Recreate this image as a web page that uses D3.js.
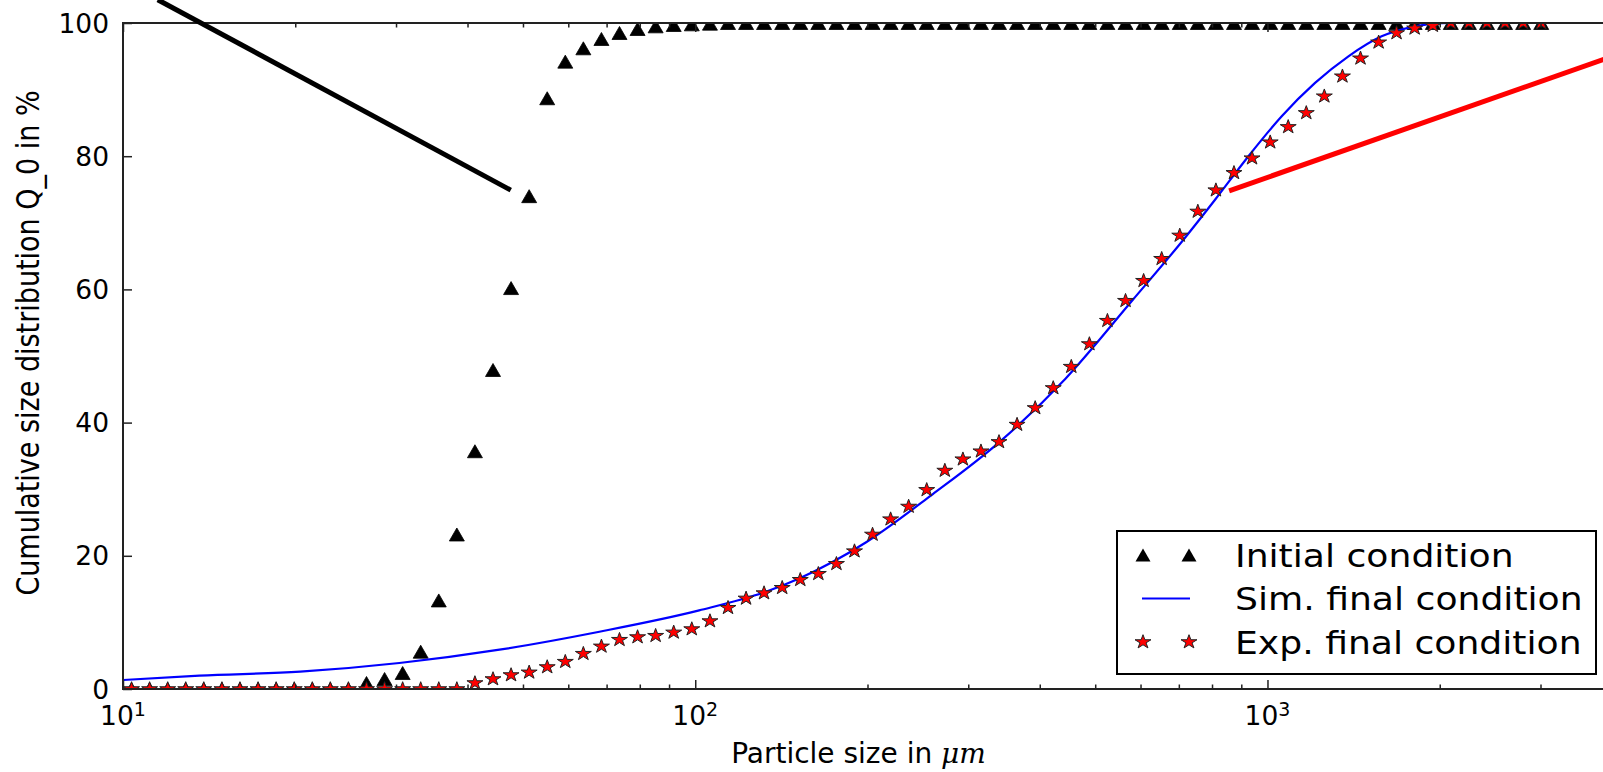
<!DOCTYPE html>
<html>
<head>
<meta charset="utf-8">
<script src="https://cdn.jsdelivr.net/npm/d3@7"></script>
<style>
  body { margin: 0; background: #fff; }
  svg { display: block; }
  text { font-family: "DejaVu Sans", sans-serif; fill: #000; }
</style>
</head>
<body>
<svg id="chart"></svg>
<script>
// particle size classes in um (same for both measured series)
var sizes = [10.35, 11.13, 11.97, 12.87, 13.84, 14.89, 16.01, 17.22, 18.52, 19.92,
  21.42, 23.03, 24.77, 26.64, 28.65, 30.81, 33.13, 35.63, 38.32, 41.21,
  44.32, 47.66, 51.26, 55.12, 59.28, 63.75, 68.56, 73.73, 79.29, 85.27,
  91.70, 98.62, 106.1, 114.1, 122.7, 131.9, 141.9, 152.6, 164.1, 176.5,
  189.8, 204.1, 219.5, 236.0, 253.8, 273.0, 293.6, 315.7, 339.5, 365.1,
  392.7, 422.3, 454.1, 488.4, 525.2, 564.9, 607.5, 653.3, 702.6, 755.6,
  812.6, 873.9, 939.8, 1011, 1087, 1169, 1257, 1352, 1454, 1564,
  1681, 1808, 1945, 2091, 2249, 2419, 2601, 2798, 3009];

var initialQ0 = [0, 0, 0, 0, 0, 0, 0, 0, 0, 0,
  0, 0, 0, 0.9, 1.5, 2.4, 5.6, 13.3, 23.2, 35.7,
  47.9, 60.2, 74.0, 88.7, 94.2, 96.2, 97.6, 98.5, 99.1, 99.5,
  99.7, 99.8, 99.9, 100, 100, 100, 100, 100, 100, 100,
  100, 100, 100, 100, 100, 100, 100, 100, 100, 100,
  100, 100, 100, 100, 100, 100, 100, 100, 100, 100,
  100, 100, 100, 100, 100, 100, 100, 100, 100, 100,
  100, 100, 100, 100, 100, 100, 100, 100, 100];

var expQ0 = [0, 0, 0, 0, 0, 0, 0, 0, 0, 0,
  0, 0, 0, 0, 0, 0, 0, 0, 0, 0.9,
  1.5, 2.1, 2.5, 3.3, 4.1, 5.3, 6.4, 7.4, 7.8, 8.0,
  8.5, 9.0, 10.2, 12.2, 13.6, 14.4, 15.2, 16.4, 17.3, 18.8,
  20.7, 23.2, 25.5, 27.4, 29.9, 32.8, 34.5, 35.7, 37.1, 39.7,
  42.2, 45.2, 48.4, 51.8, 55.3, 58.3, 61.3, 64.6, 68.1, 71.7,
  74.9, 77.5, 79.7, 82.1, 84.4, 86.5, 89.0, 92.0, 94.7, 97.1,
  98.5, 99.2, 99.6, 100, 100, 100, 100, 100, 100];

// simulated curve
var simSizes = [10, 13.6, 20.4, 30.4, 45.5, 68, 101.6, 132.9, 151.9, 198.6,
  259.5, 339.2, 443.6, 579.8, 713.6, 810.4, 926.3, 1059, 1211, 1385,
  1583, 1811, 2070, 3009];
var simQ0 = [1.35, 2.0, 2.6, 3.9, 5.9, 8.6, 11.8, 14.6, 16.6, 22.0,
  29.2, 37.0, 46.6, 58.3, 67.5, 73.5, 80.0, 86.0, 91.0, 95.0,
  98.0, 99.5, 100, 100];

var yTicks = [0, 20, 40, 60, 80, 100];
var xTicks = [10, 100, 1000];
var xTickExp = ["1", "2", "3"];
var legendLabels = ["Initial condition", "Sim. final condition", "Exp. final condition"];

// pointer lines [size, Q0] start -> end
var blackPointer = [[11.5, 103.5], [47.6, 74.9]];
var redPointer = [[857, 74.8], [3890, 94.6]];

var W = 1603, H = 772;
var margin = { top: 23, left: 123 };
var width = 1612 - margin.left,   // right spine falls just outside the window
  height = 689 - margin.top;

var svg = d3.select("#chart").attr("width", W).attr("height", H);
var g = svg.append("g").attr("transform", "translate(" + margin.left + "," + margin.top + ")");

var xScale = d3.scaleLog().domain([10, 4000]).range([0, width]);
var yScale = d3.scaleLinear().domain([0, 100]).range([height, 0]);

var triPath = "M0,-6.5L7.5,6.5L-7.5,6.5Z";
var starPath = (function () {
  var pts = [], R = 7.3, r = 7.3 * 0.382;
  for (var k = 0; k < 10; k++) {
    var a = -Math.PI / 2 + k * Math.PI / 5, rr = k % 2 ? r : R;
    pts.push([1.15 * rr * Math.cos(a), rr * Math.sin(a)]);
  }
  return "M" + pts.map(function (p) { return p[0].toFixed(2) + "," + p[1].toFixed(2); }).join("L") + "Z";
})();

g.append("clipPath").attr("id", "plotclip")
  .append("rect").attr("width", width).attr("height", height);

var plot = g.append("g").attr("clip-path", "url(#plotclip)");

plot.selectAll(".tri").data(sizes).enter().append("path")
  .attr("class", "tri")
  .attr("d", triPath)
  .attr("transform", function (d, i) { return "translate(" + xScale(d) + "," + yScale(initialQ0[i]) + ")"; })
  .attr("fill", "#000").attr("stroke", "#000").attr("stroke-width", 0.8);

var simLine = d3.line()
  .x(function (d) { return xScale(d[0]); })
  .y(function (d) { return yScale(d[1]); })
  .curve(d3.curveMonotoneX);

plot.append("path")
  .datum(d3.zip(simSizes, simQ0))
  .attr("d", simLine)
  .attr("fill", "none").attr("stroke", "#0000ff").attr("stroke-width", 2.2);

plot.selectAll(".star").data(sizes).enter().append("path")
  .attr("class", "star")
  .attr("d", starPath)
  .attr("transform", function (d, i) { return "translate(" + xScale(d) + "," + yScale(expQ0[i]) + ")"; })
  .attr("fill", "#ff0000").attr("stroke", "#222").attr("stroke-width", 1);

drawAxis(g, width, height, xScale, yScale);
drawLegend(g);

// pointer lines go over everything, unclipped
[[blackPointer, "#000"], [redPointer, "#ff0000"]].forEach(function (p) {
  g.append("line")
    .attr("x1", xScale(p[0][0][0])).attr("y1", yScale(p[0][0][1]))
    .attr("x2", xScale(p[0][1][0])).attr("y2", yScale(p[0][1][1]))
    .attr("stroke", p[1]).attr("stroke-width", 5);
});

function drawAxis(g, width, height, xScale, yScale) {
  var minor = [];
  [10, 100, 1000].forEach(function (dec) {
    for (var m = 2; m <= 9; m++) if (dec * m <= 4000) minor.push(dec * m);
  });

  // ticks on all four sides, pointing inward
  var bottom = d3.axisBottom(xScale).tickValues(xTicks).tickSizeInner(-9).tickSizeOuter(0).tickFormat("");
  var bottomMinor = d3.axisBottom(xScale).tickValues(minor).tickSizeInner(-4.5).tickSizeOuter(0).tickFormat("");
  var top = d3.axisTop(xScale).tickValues(xTicks).tickSizeInner(-9).tickSizeOuter(0).tickFormat("");
  var topMinor = d3.axisTop(xScale).tickValues(minor).tickSizeInner(-4.5).tickSizeOuter(0).tickFormat("");
  var left = d3.axisLeft(yScale).tickValues(yTicks).tickSizeInner(-9).tickSizeOuter(0).tickFormat("");
  var right = d3.axisRight(yScale).tickValues(yTicks).tickSizeInner(-9).tickSizeOuter(0).tickFormat("");

  var axes = [
    [bottom, "translate(0," + height + ")"], [bottomMinor, "translate(0," + height + ")"],
    [top, null], [topMinor, null], [left, null], [right, "translate(" + width + ",0)"]
  ];
  axes.forEach(function (a) {
    var ax = g.append("g").attr("transform", a[1]).call(a[0]);
    ax.select(".domain").remove();
    ax.selectAll("line").attr("stroke", "#222").attr("stroke-width", 1.5);
  });

  // frame
  g.append("rect").attr("width", width).attr("height", height)
    .attr("fill", "none").attr("stroke", "#222").attr("stroke-width", 2);

  g.selectAll(".ylab").data(yTicks).enter().append("text")
    .attr("class", "ylab")
    .attr("x", -14).attr("y", function (d) { return yScale(d); })
    .attr("dy", "0.36em")
    .attr("text-anchor", "end")
    .style("font-size", "26.5px")
    .text(function (d) { return d; });

  var xl = g.selectAll(".xlab").data(xTicks).enter().append("text")
    .attr("class", "xlab")
    .attr("x", function (d) { return xScale(d); })
    .attr("y", height + 36)
    .attr("text-anchor", "middle")
    .style("font-size", "26.5px");
  xl.append("tspan").text("10");
  xl.append("tspan").attr("dy", "-0.45em").style("font-size", "19px")
    .text(function (d, i) { return xTickExp[i]; });

  var xt = g.append("text")
    .attr("x", width / 2 - 9).attr("y", height + 74)
    .attr("text-anchor", "middle")
    .style("font-size", "28px");
  xt.append("tspan").text("Particle size in ");
  xt.append("tspan").style("font-family", "'DejaVu Serif', serif").style("font-style", "italic").text("\u03bcm");

  g.append("text")
    .attr("transform", "translate(-84,320) scale(1.15,1) rotate(-90)")
    .attr("text-anchor", "middle")
    .style("font-size", "27px")
    .text("Cumulative size distribution Q_0 in %");
}

function drawLegend(g) {
  var lg = g.append("g").attr("transform", "translate(994,508)");
  lg.append("rect").attr("width", 479).attr("height", 143)
    .attr("fill", "#fff").attr("stroke", "#000").attr("stroke-width", 2);

  var rows = [24, 67.5, 111], mx = [26, 72];
  mx.forEach(function (m) {
    lg.append("path").attr("d", triPath).attr("transform", "translate(" + m + "," + rows[0] + ")").attr("fill", "#000");
    lg.append("path").attr("d", starPath).attr("transform", "translate(" + m + "," + rows[2] + ")")
      .attr("fill", "#ff0000").attr("stroke", "#222").attr("stroke-width", 1);
  });
  lg.append("line").attr("x1", 25).attr("x2", 73).attr("y1", rows[1]).attr("y2", rows[1])
    .attr("stroke", "#0000ff").attr("stroke-width", 2.2);

  lg.selectAll(".leg").data(legendLabels).enter().append("text")
    .attr("transform", function (d, i) { return "translate(118," + rows[i] + ") scale(1.13,1)"; })
    .attr("dy", "0.36em")
    .style("font-size", "32px")
    .text(function (d) { return d; });
}
</script>
</body>
</html>
